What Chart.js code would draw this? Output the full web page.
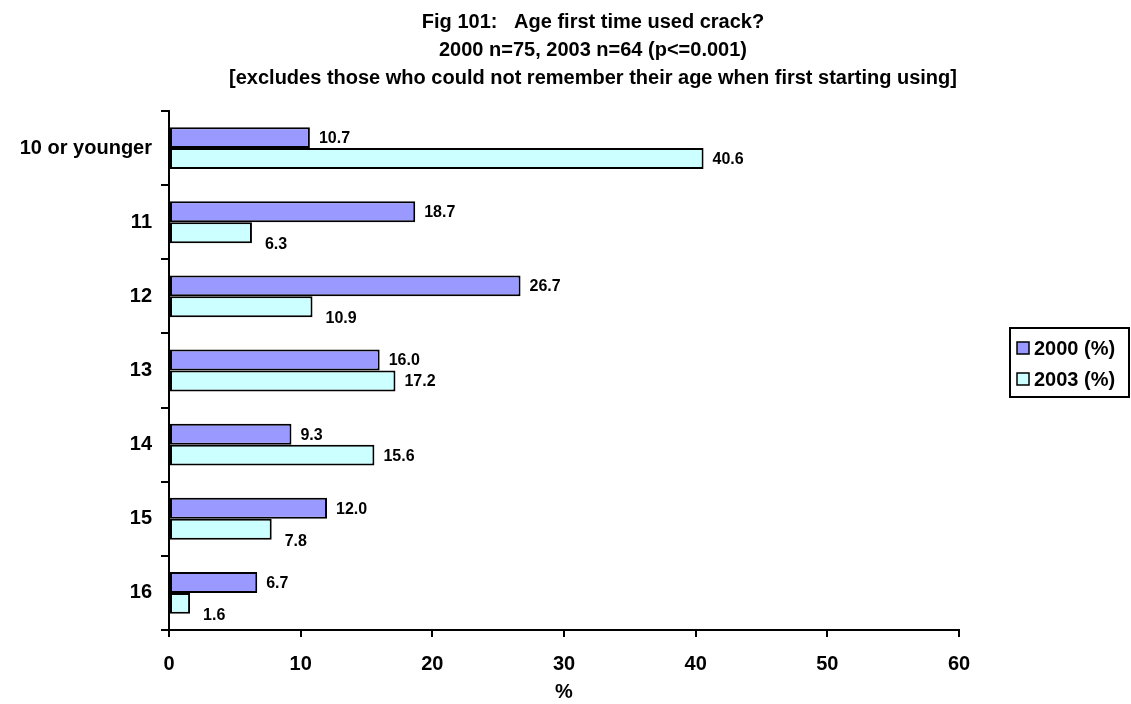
<!DOCTYPE html>
<html>
<head>
<meta charset="utf-8">
<script src="https://cdn.jsdelivr.net/npm/chart.js@4/dist/chart.umd.min.js"></script>
<style>
html,body{margin:0;padding:0;background:#fff;overflow:hidden;}
#wrap{width:1131px;height:704px;position:relative;}
</style>
</head>
<body>
<div id="wrap"><canvas id="c" width="1131" height="704"></canvas></div>
<script>
const categories = ['10 or younger', '11', '12', '13', '14', '15', '16'];
const values2000 = [10.7, 18.7, 26.7, 16.0, 9.3, 12.0, 6.7];
const values2003 = [40.6, 6.3, 10.9, 17.2, 15.6, 7.8, 1.6];
const seriesLabels = ['2000 (%)', '2003 (%)'];
const titleLines = ['Fig 101:   Age first time used crack?', '2000 n=75, 2003 n=64 (p<=0.001)', '[excludes those who could not remember their age when first starting using]'];
const xTicks = [0, 10, 20, 30, 40, 50, 60];
const xTitle = '%';

const FONT = '"Liberation Sans", Arial, sans-serif';

const titlePlugin = {
  id: 'centeredTitle',
  afterDraw(chart) {
    const ctx = chart.ctx;
    ctx.save();
    ctx.font = 'bold 20px ' + FONT;
    ctx.fillStyle = '#000';
    ctx.textAlign = 'center';
    ctx.textBaseline = 'alphabetic';
    const baselines = [27.5, 56, 83.5];
    titleLines.forEach((t, i) => ctx.fillText(t, 593, baselines[i]));
    ctx.restore();
  }
};

const labelPlugin = {
  id: 'barLabels',
  afterDatasetsDraw(chart) {
    const ctx = chart.ctx;
    ctx.save();
    ctx.font = 'bold 16px ' + FONT;
    ctx.fillStyle = '#000';
    ctx.textBaseline = 'middle';
    ctx.textAlign = 'left';
    const d0 = chart.data.datasets[0].data;
    chart.data.datasets.forEach((ds, di) => {
      const meta = chart.getDatasetMeta(di);
      meta.data.forEach((bar, i) => {
        const v = ds.data[i];
        let dx = 9, dy = 1;
        if (di === 1 && v < d0[i]) { dx = 13; dy = 12; }
        ctx.fillText(v.toFixed(1), bar.x + dx, bar.y + dy);
      });
    });
    ctx.restore();
  }
};

const legendPlugin = {
  id: 'boxLegend',
  afterDraw(chart) {
    const ctx = chart.ctx;
    const left = 1010, top = 328, w = 119, h = 69;
    ctx.save();
    ctx.lineWidth = 2;
    ctx.strokeStyle = '#000';
    ctx.strokeRect(left, top, w, h);
    ctx.font = 'bold 20px ' + FONT;
    ctx.textBaseline = 'middle';
    ctx.textAlign = 'left';
    chart.data.datasets.forEach((ds, di) => {
      const cy = top + 20 + di * 31;
      ctx.fillStyle = ds.backgroundColor;
      ctx.fillRect(left + 7, cy - 6, 12, 12);
      ctx.lineWidth = 1.5;
      ctx.strokeRect(left + 7, cy - 6, 12, 12);
      ctx.fillStyle = '#000';
      ctx.fillText(ds.label, left + 24, cy + 1);
    });
    ctx.restore();
  }
};

new Chart(document.getElementById('c'), {
  type: 'bar',
  data: {
    labels: categories,
    datasets: [
      { label: seriesLabels[0], data: values2000, backgroundColor: '#9999FF', borderColor: '#000', borderWidth: 2, borderSkipped: false, barPercentage: 1.0, categoryPercentage: 0.565 },
      { label: seriesLabels[1], data: values2003, backgroundColor: '#CCFFFF', borderColor: '#000', borderWidth: 2, borderSkipped: false, barPercentage: 1.0, categoryPercentage: 0.565 }
    ]
  },
  options: {
    indexAxis: 'y',
    responsive: false,
    animation: false,
    layout: { padding: { left: 0, right: 172, top: 111, bottom: 0 } },
    plugins: {
      legend: { display: false },
      tooltip: { enabled: false },
      title: { display: false }
    },
    scales: {
      x: {
        min: 0, max: 60,
        afterBuildTicks(axis) { axis.ticks = xTicks.map(v => ({ value: v })); },
        afterFit(axis) { axis.height = 74; },
        border: { display: true, color: '#000', width: 2 },
        grid: { drawOnChartArea: false, drawTicks: true, tickLength: 7, color: '#000', lineWidth: 2 },
        ticks: { color: '#000', font: { family: FONT, size: 20, weight: 'bold' }, padding: 15, maxRotation: 0 },
        title: { display: true, text: xTitle, color: '#000', font: { family: FONT, size: 20, weight: 'bold' }, padding: { top: 0, bottom: 0 } }
      },
      y: {
        offset: true,
        afterFit(axis) { axis.width = 169; },
        border: { display: true, color: '#000', width: 2 },
        grid: { offset: true, drawOnChartArea: false, drawTicks: true, tickLength: 8, color: '#000', lineWidth: 2 },
        ticks: { color: '#000', font: { family: FONT, size: 20, weight: 'bold' }, padding: 9 }
      }
    }
  },
  plugins: [labelPlugin, legendPlugin, titlePlugin]
});
</script>
</body>
</html>
